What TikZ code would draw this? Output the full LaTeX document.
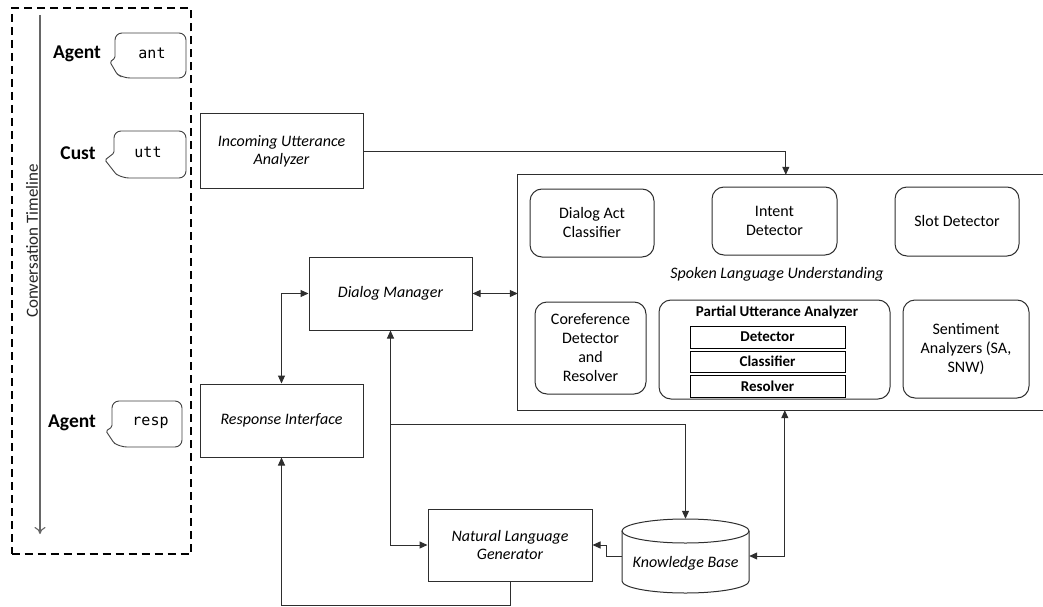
\documentclass[tikz,border=0pt]{standalone}
\usepackage{fontspec}
\setmainfont{Carlito}
\newfontfamily\monofam{DejaVu Sans Mono}
\usetikzlibrary{arrows.meta,calc}
\newcommand\bubblepath[7]{%
  \draw[bub] (#1,#7) [rounded corners=7pt] -- (#1,#2) -- (#3,#2) -- (#3,#4) -- ({#1+8},#4)
    [rounded corners=1.5pt] -- ({#1+2},{#4-4}) -- (#5,#6) -- cycle;}
\begin{document}
\begin{tikzpicture}[x=1pt,y=-1pt,
  lc/.style={draw=black!82, line width=1pt},
  box/.style={lc, inner sep=2pt, align=center, font=\fontsize{16}{18}\selectfont\itshape},
  rbox/.style={lc, rounded corners=12pt, inner sep=2pt, align=center, font=\fontsize{16}{19}\selectfont},
  subbox/.style={draw=black, line width=1pt, inner sep=0pt, font=\fontsize{15}{17}\selectfont\bfseries},
  arr/.style={lc, -{Triangle[length=8pt,width=7pt]}},
  dblarr/.style={lc, {Triangle[length=8pt,width=7pt]}-{Triangle[length=8pt,width=7pt]}},
  who/.style={font=\fontsize{19.5}{21}\selectfont\bfseries},
  mono/.style={font=\fontsize{15}{17}\monofam},
  bub/.style={draw=black!75, line width=0.9pt, fill=white},
]
\useasboundingbox (0,0) rectangle (1043,607);

% conversation timeline frame
\node[draw=black, line width=2pt, dash pattern=on 8pt off 5pt, minimum width=179.5pt, minimum height=545.5pt, inner sep=0pt] (frame) at (101.25,281.25) {};
\coordinate (tl1) at (40,15);
\coordinate (tl2) at (40,534);
\draw[draw=black!60, line width=1.1pt, -{To[length=7pt,width=11pt]}] (tl1) -- (tl2);
\node[rotate=90, font=\fontsize{17}{19}\selectfont, text=black!85] (tltext) at (32,241) {Conversation Timeline};

\node[who] (ag1) at (77,54) {Agent};
\node[who] (cu) at (78,153) {Cust};
\node[who] (ag2) at (72,423) {Agent};

\bubblepath{115}{33}{186}{78}{110}{62}{58}
\bubblepath{114}{131}{186}{178}{105}{160}{153}
\bubblepath{112}{401}{182}{447}{106}{431}{427}
\node[mono] (b1) at (152,53) {ant};
\node[mono] (b2) at (148,152) {utt};
\node[mono] (b3) at (150.5,423) {resp};

% main boxes
\node[box, minimum width=163pt, minimum height=74pt] (iua) at (281.5,151) {Incoming Utterance\\Analyzer};
\node[box, minimum width=163pt, minimum height=73pt] (ri) at (281.5,420.5) {Response Interface};
\node[box, minimum width=163pt, minimum height=73pt] (dm) at (390.5,293.5) {Dialog Manager};
\node[box, minimum width=164pt, minimum height=72pt] (nlg) at (510,545) {Natural Language\\Generator};

% SLU container
\node[minimum width=525pt, minimum height=235pt, inner sep=0pt] (slu) at (780.5,292.5) {};
\draw[lc] (slu.north east) -- (slu.north west) -- (slu.south west) -- (slu.south east);
\node[font=\fontsize{16}{18}\selectfont\itshape] (slutext) at (777,274) {Spoken Language Understanding};

\node[rbox, minimum width=124pt, minimum height=68pt] (dac) at (592,223) {Dialog Act\\Classifier};
\node[rbox, minimum width=125pt, minimum height=68pt] (intent) at (774.5,221) {Intent\\Detector};
\node[rbox, minimum width=124pt, minimum height=69pt] (slot) at (957,221.5) {Slot Detector};
\node[rbox, minimum width=111pt, minimum height=92pt] (coref) at (590.5,348) {Coreference\\Detector\\and\\Resolver};
\node[rbox, minimum width=231pt, minimum height=99pt] (pua) at (774.5,349.5) {};
\node[font=\fontsize{15}{17}\selectfont\bfseries] (puatext) at (777,312) {Partial Utterance Analyzer};
\node[subbox, minimum width=155pt, minimum height=22pt] (det) at (767.5,337) {Detector};
\node[subbox, minimum width=155pt, minimum height=21pt] (cls) at (767.5,361.5) {Classifier};
\node[subbox, minimum width=155pt, minimum height=22pt] (res) at (767.5,386) {Resolver};
\node[rbox, minimum width=126pt, minimum height=98pt] (sent) at (966,349) {Sentiment\\Analyzers (SA,\\SNW)};

% knowledge base cylinder
\node[minimum width=127pt, minimum height=74pt, inner sep=0pt, text height=25pt, text depth=2pt, font=\fontsize{16}{18}\selectfont\itshape] (kb) at (685.5,556) {Knowledge Base};
\draw[lc] (622,531) -- (622,581) arc[start angle=180, end angle=360, x radius=63.5pt, y radius=12pt] -- (749,531);
\draw[lc] (685.5,531) ellipse[x radius=63.5pt, y radius=12pt];

% connectors
\draw[arr] (iua.east) -| ([xshift=268pt]slu.north west);
\draw[dblarr] (dm.east) -- (dm.east -| slu.west);
\draw[dblarr] (dm.west) -| (ri.north);
\coordinate (j) at (dm.south |- 0,424);
\draw[arr] (j) -- (dm.south);
\draw[arr] (j) |- (nlg.west);
\draw[arr] (j) -| (kb.north);
\draw[arr] (kb.west) -- ++(-15,0) |- (nlg.east);
\draw[dblarr] (kb.east) -| ([xshift=267pt]slu.south west);
\draw[arr] (nlg.south) -- ++(0,24) -| (ri.south);
\end{tikzpicture}
\end{document}
